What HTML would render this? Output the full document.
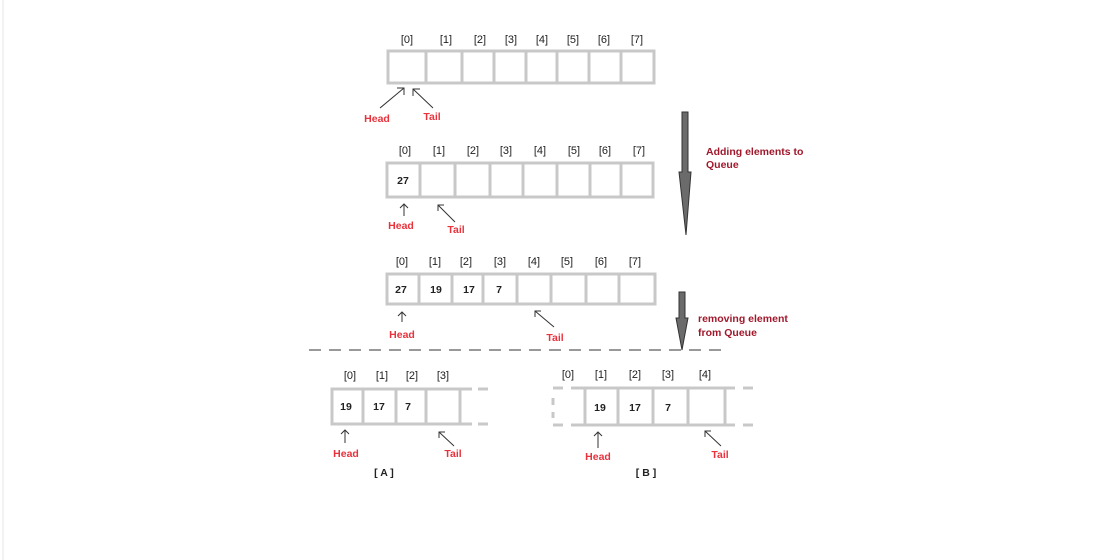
<!DOCTYPE html>
<html><head><meta charset="utf-8"><style>
html,body{margin:0;padding:0;background:#fff;}
svg{display:block;}
text{font-family:"Liberation Sans",sans-serif;}
.i{font-size:11px;fill:#222;text-anchor:middle;}
.v{font-size:10.5px;font-weight:bold;fill:#222;text-anchor:middle;}
.r{font-size:10.5px;font-weight:bold;fill:#e8323c;text-anchor:middle;}
.d{font-size:10.5px;font-weight:bold;fill:#a0182b;}
.b{fill:none;stroke:#c8c8c8;stroke-width:3;}
.a{fill:none;stroke:#333;stroke-width:1;}
</style></head><body>
<svg width="1104" height="560" viewBox="0 0 1104 560" xmlns="http://www.w3.org/2000/svg">
<line x1="3" y1="0" x2="3" y2="560" stroke="#f2f2f2" stroke-width="2"/>
<!-- Array 1 -->
<g class="i"><text x="407" y="43">[0]</text><text x="446" y="43">[1]</text><text x="480" y="43">[2]</text><text x="511" y="43">[3]</text><text x="542" y="43">[4]</text><text x="573" y="43">[5]</text><text x="604" y="43">[6]</text><text x="637" y="43">[7]</text></g>
<rect class="b" x="388" y="51" width="266" height="32"/>
<path class="b" d="M426 51V83M462 51V83M494 51V83M526 51V83M557 51V83M589 51V83M621 51V83"/>
<path class="a" d="M380 108L404 88M397 88H404V95M433 108L413 89M413 96V89H420"/>
<text class="r" x="377" y="122">Head</text><text class="r" x="432" y="120">Tail</text>
<!-- Array 2 -->
<g class="i"><text x="405" y="154">[0]</text><text x="439" y="154">[1]</text><text x="473" y="154">[2]</text><text x="506" y="154">[3]</text><text x="540" y="154">[4]</text><text x="574" y="154">[5]</text><text x="605" y="154">[6]</text><text x="639" y="154">[7]</text></g>
<rect class="b" x="387" y="163" width="266" height="34"/>
<path class="b" d="M420 163V197M455 163V197M490 163V197M523 163V197M557 163V197M590 163V197M621 163V197"/>
<text class="v" x="403" y="184">27</text>
<path class="a" d="M404 216V204M400 208L404 204L408 208M455 222L438 205M438 211V205H444"/>
<text class="r" x="401" y="229">Head</text><text class="r" x="456" y="233">Tail</text>
<!-- grey arrow 1 -->
<path d="M682 112H688V172H691L686 235L679 172H682Z" fill="#6b6b6b" stroke="#333" stroke-width="1"/>
<text class="d" x="706" y="155">Adding elements to</text><text class="d" x="706" y="168">Queue</text>
<!-- Array 3 -->
<g class="i"><text x="402" y="265">[0]</text><text x="435" y="265">[1]</text><text x="466" y="265">[2]</text><text x="500" y="265">[3]</text><text x="534" y="265">[4]</text><text x="567" y="265">[5]</text><text x="601" y="265">[6]</text><text x="635" y="265">[7]</text></g>
<rect class="b" x="387" y="274" width="268" height="30"/>
<path class="b" d="M419 274V304M452 274V304M483 274V304M517 274V304M551 274V304M586 274V304M619 274V304"/>
<g class="v"><text x="401" y="293">27</text><text x="436" y="293">19</text><text x="469" y="293">17</text><text x="499" y="293">7</text></g>
<path class="a" d="M402 322V312M398 316L402 312L406 316M554 327L535 311M535 317V311H541"/>
<text class="r" x="402" y="338">Head</text><text class="r" x="555" y="341">Tail</text>
<!-- grey arrow 2 -->
<path d="M679 292H685V318H688L682 350L676 318H679Z" fill="#6b6b6b" stroke="#333" stroke-width="1"/>
<text class="d" x="698" y="322">removing element</text><text class="d" x="698" y="336">from Queue</text>
<line x1="309" y1="350" x2="728" y2="350" stroke="#333" stroke-width="1" stroke-dasharray="12,8"/>
<!-- Array A -->
<g class="i"><text x="350" y="379">[0]</text><text x="382" y="379">[1]</text><text x="412" y="379">[2]</text><text x="443" y="379">[3]</text></g>
<path class="b" d="M472 389H332V424H472M363 389V424M396 389V424M426 389V424M460 389V424M478 389H488M478 424H488"/>
<g class="v"><text x="346" y="410">19</text><text x="379" y="410">17</text><text x="408" y="410">7</text></g>
<path class="a" d="M345 443V430M341 434L345 430L349 434M454 446L439 432M439 438V432H445"/>
<text class="r" x="346" y="457">Head</text><text class="r" x="453" y="457">Tail</text>
<text class="v" x="384" y="476">[ A ]</text>
<!-- Array B -->
<g class="i"><text x="568" y="378">[0]</text><text x="601" y="378">[1]</text><text x="635" y="378">[2]</text><text x="668" y="378">[3]</text><text x="705" y="378">[4]</text></g>
<path class="b" d="M571 388H735M571 425H735M585 388V425M618 388V425M653 388V425M688 388V425M725 388V425M743 388H753M743 425H753M553 388H563M553 425H563M553 398V405M553 412V418"/>
<g class="v"><text x="600" y="411">19</text><text x="635" y="411">17</text><text x="668" y="411">7</text></g>
<path class="a" d="M598 448V432M594 436L598 432L602 436M721 446L705 431M705 437V431H711"/>
<text class="r" x="598" y="460">Head</text><text class="r" x="720" y="458">Tail</text>
<text class="v" x="646" y="476">[ B ]</text>
</svg>
</body></html>
